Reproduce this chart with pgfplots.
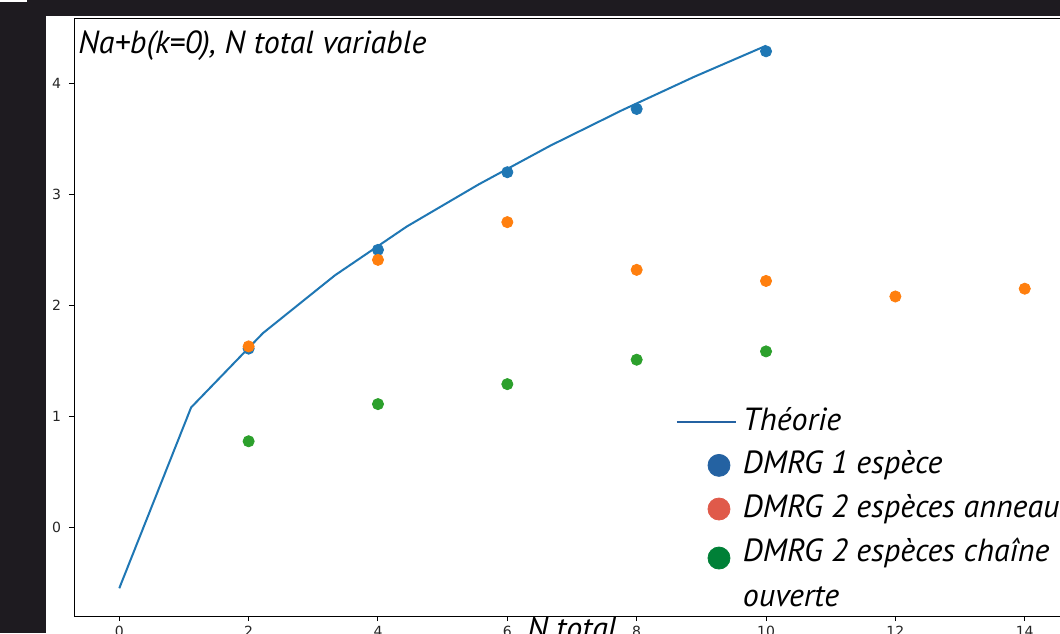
\documentclass[border=0pt]{standalone}
\usepackage{pgfplots}
\pgfplotsset{compat=1.18}
\usepackage{fontspec}
\setmainfont{PT Sans}
\newfontfamily\tickfont{DejaVu Sans}

\definecolor{bgdark}{HTML}{1E1B20}
\definecolor{mplblue}{HTML}{1F77B4}
\definecolor{mplorange}{HTML}{FF7F0E}
\definecolor{mplgreen}{HTML}{2CA02C}
\definecolor{legblue}{HTML}{2462A2}
\definecolor{legred}{HTML}{E05A4A}
\definecolor{leggreen}{HTML}{008037}

% 1 px of the reference = 0.5pt, origin at top-left
\begin{document}
\begin{tikzpicture}
  \clip (0pt,0pt) rectangle (530pt,-316.5pt);
  \fill[bgdark] (0pt,0pt) rectangle (530pt,-316.5pt);
  \fill[white] (0pt,0pt) rectangle (13.5pt,-1pt);
  \fill[white] (23pt,-8pt) rectangle (530pt,-316.5pt);
  \begin{axis}[
    at={(37pt,-308pt)}, anchor=south west,
    scale only axis,
    width=498pt, height=299pt,
    xmin=-0.7, xmax=14.7,
    ymin=-0.8, ymax=4.59,
    xtick={0,2,...,14},
    ytick={0,1,2,3,4},
    tick align=outside,
    xtick pos=bottom, ytick pos=left,
    major tick length=2.5pt,
    tick style={black, line width=0.5pt},
    axis line style={line width=0.5pt},
    /pgf/number format/assume math mode=true,
    tick label style={font=\tickfont\fontsize{7}{8}\selectfont, text=black!85},
    xticklabel style={yshift=0.8pt},
    yticklabel style={xshift=-0.5pt},
    clip=false,
    legend style={draw=none, fill=none, at={(rel axis cs:0.604,0.350)},
      anchor=north west, font=\itshape\fontsize{16}{18}\selectfont,
      row sep=8.6pt, inner sep=0pt,
      nodes={inner sep=0pt, anchor=base west}},
    legend cell align=left,
  ]
  % Theorie
  \addplot[mplblue, line width=1pt, forget plot] coordinates {
    (0,-0.55) (1.111,1.08) (2.222,1.75) (3.333,2.27) (4.444,2.71)
    (5.556,3.09) (6.667,3.44) (7.778,3.76) (8.889,4.06) (10,4.34)
  };
  % DMRG 1 espece
  \addplot[only marks, mark=*, mark size=2.8pt, mplblue, forget plot] coordinates {
    (2,1.61) (4,2.50) (6,3.20) (8,3.77) (10,4.29)
  };
  % DMRG 2 especes anneau
  \addplot[only marks, mark=*, mark size=2.8pt, mplorange, forget plot] coordinates {
    (2,1.63) (4,2.41) (6,2.75) (8,2.32) (10,2.22) (12,2.08) (14,2.15)
  };
  % DMRG 2 especes chaine ouverte
  \addplot[only marks, mark=*, mark size=2.8pt, mplgreen, forget plot] coordinates {
    (2,0.775) (4,1.11) (6,1.29) (8,1.51) (10,1.585)
  };
  \addlegendimage{legend image code/.code={\draw[legblue, line width=1pt] (0pt,4pt) -- (29.5pt,4pt);}}
  \addlegendentry{\hspace{3pt}Théorie}
  \addlegendimage{legend image code/.code={\fill[legblue] (21pt,4pt) circle (5.5pt); \path[draw=none] (0pt,0pt) -- (29.5pt,0pt);}}
  \addlegendentry{\hspace{3pt}DMRG 1 espèce}
  \addlegendimage{legend image code/.code={\fill[legred] (21pt,4pt) circle (5.5pt); \path[draw=none] (0pt,0pt) -- (29.5pt,0pt);}}
  \addlegendentry{\hspace{3pt}DMRG 2 espèces anneau}
  \addlegendimage{legend image code/.code={\fill[leggreen] (21pt,1.5pt) circle (5.5pt); \path[draw=none] (0pt,0pt) -- (29.5pt,0pt);}}
  \addlegendentry{\hspace{3pt}DMRG 2 espèces chaîne}
  \addlegendimage{legend image code/.code={\path[draw=none] (0pt,0pt) -- (29.5pt,0pt);}}
  \addlegendentry{\hspace{3pt}ouverte}
  \node[anchor=base west, inner sep=0pt, font=\itshape\fontsize{16}{18}\selectfont]
    at (rel axis cs:0,1) [xshift=2pt, yshift=-17.5pt] {Na+b(k=0), N total variable};
  \node[anchor=base, inner sep=0pt, font=\itshape\fontsize{16}{18}\selectfont]
    at (axis cs:7,-0.8) [yshift=-11.5pt] {N total};
  \end{axis}
\end{tikzpicture}
\end{document}
